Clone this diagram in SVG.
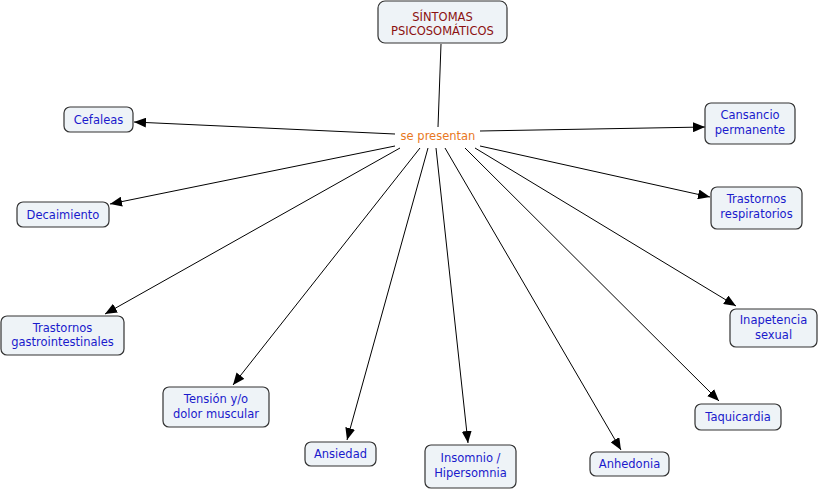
<svg xmlns="http://www.w3.org/2000/svg" width="820" height="490" viewBox="0 0 820 490">
<style>
.box{fill:#eef3f7;stroke:#333;stroke-width:1.2}
.t{font-family:"DejaVu Sans",Verdana,sans-serif;font-size:11.5px;fill:#1a1acc;text-anchor:middle}
.root{fill:#8b1010}
.lbl{fill:#e8781e}
.c{stroke:#000;stroke-width:1;fill:none}
.a{marker-end:url(#ah)}
</style>
<defs>
<marker id="ah" markerWidth="12" markerHeight="10" refX="12" refY="5" orient="auto" markerUnits="userSpaceOnUse">
<path d="M0,0 L12,5 L0,10 Z" fill="#000"/>
</marker>
</defs>
<rect width="820" height="490" fill="#fff"/>
<g id="connectors">
<line class="c" x1="441" y1="44" x2="438" y2="127"/>
<line class="c a" x1="395" y1="134" x2="134" y2="122"/>
<line class="c a" x1="480" y1="131" x2="705" y2="127"/>
<line class="c a" x1="395" y1="146" x2="110" y2="204"/>
<line class="c a" x1="480" y1="146" x2="710" y2="197"/>
<line class="c a" x1="400" y1="148" x2="105" y2="314"/>
<line class="c a" x1="475" y1="148" x2="736" y2="306"/>
<line class="c a" x1="420" y1="148" x2="233" y2="385"/>
<line class="c a" x1="465" y1="148" x2="719" y2="401"/>
<line class="c a" x1="428" y1="148" x2="347" y2="440"/>
<line class="c a" x1="436" y1="148" x2="468" y2="443"/>
<line class="c a" x1="445" y1="148" x2="621" y2="450"/>
</g>
<g id="root"><rect class="box" x="378" y="1" width="129" height="42" rx="7"/><text class="t root" x="442.5" y="21">SÍNTOMAS</text><text class="t root" x="442.5" y="35">PSICOSOMÁTICOS</text></g>
<g id="label"><rect x="396" y="127" width="84" height="20" fill="#fff"/><text class="t lbl" x="438" y="140">se presentan</text></g>
<g id="cefaleas"><rect class="box" x="64" y="107" width="69" height="25" rx="6"/><text class="t" x="98.5" y="124">Cefaleas</text></g>
<g id="decaimiento"><rect class="box" x="17" y="202" width="92" height="25" rx="6"/><text class="t" x="63" y="219">Decaimiento</text></g>
<g id="gastro"><rect class="box" x="1" y="316" width="123" height="39" rx="6"/><text class="t" x="62.5" y="332">Trastornos</text><text class="t" x="62.5" y="346">gastrointestinales</text></g>
<g id="tension"><rect class="box" x="163" y="387" width="106" height="40" rx="6"/><text class="t" x="216" y="403">Tensión y/o</text><text class="t" x="216" y="418">dolor muscular</text></g>
<g id="ansiedad"><rect class="box" x="305" y="442" width="71" height="24" rx="6"/><text class="t" x="340.5" y="458">Ansiedad</text></g>
<g id="insomnio"><rect class="box" x="425" y="445" width="91" height="43" rx="6"/><text class="t" x="470.5" y="462">Insomnio /</text><text class="t" x="470.5" y="477">Hipersomnia</text></g>
<g id="anhedonia"><rect class="box" x="590" y="452" width="79" height="24" rx="6"/><text class="t" x="629.5" y="468">Anhedonia</text></g>
<g id="taquicardia"><rect class="box" x="695" y="404" width="86" height="26" rx="6"/><text class="t" x="738" y="421">Taquicardia</text></g>
<g id="inapetencia"><rect class="box" x="730" y="309" width="87" height="38" rx="6"/><text class="t" x="773.5" y="324">Inapetencia</text><text class="t" x="773.5" y="339">sexual</text></g>
<g id="respiratorios"><rect class="box" x="711" y="187" width="91" height="42" rx="6"/><text class="t" x="756.5" y="203">Trastornos</text><text class="t" x="756.5" y="218">respiratorios</text></g>
<g id="cansancio"><rect class="box" x="705" y="103" width="90" height="41" rx="6"/><text class="t" x="750" y="119">Cansancio</text><text class="t" x="750" y="134">permanente</text></g>
</svg>
